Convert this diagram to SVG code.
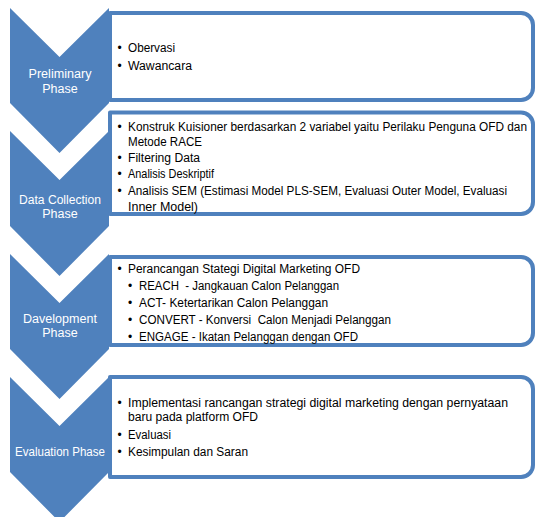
<svg xmlns="http://www.w3.org/2000/svg" width="537" height="517" viewBox="0 0 537 517">
  <style>
    .chev { fill: #4F81BD; }
    .box { fill: #FFFFFF; stroke: #4F81BD; stroke-width: 4; stroke-linejoin: round; }
    .lbl { font-family: "Liberation Sans", Arial, sans-serif; font-size: 12.5px; fill: #FFFFFF; text-anchor: middle; }
    .txt { font-family: "Liberation Sans", Arial, sans-serif; font-size: 12.3px; fill: #000000; }
    .bul { font-family: "Liberation Sans", Arial, sans-serif; font-size: 12px; fill: #000000; }
  </style>
  <rect x="0" y="0" width="537" height="517" fill="#FFFFFF"/>

  <!-- Phase 1 -->
  <g id="preliminary">
    <path class="chev" d="M10,8 L59.5,57 L109,8 L109,103 L59.5,153 L10,103 Z"/>
    <text class="lbl" x="60" y="78" textLength="63" lengthAdjust="spacingAndGlyphs">Preliminary</text>
    <text class="lbl" x="60" y="93">Phase</text>
    <path class="box" d="M110,13 H521 A12,12 0 0 1 533,25 V88 A12,12 0 0 1 521,100 H110 Z"/>
    <text class="bul" x="117.5" y="52">•</text>
    <text class="txt" x="128" y="52" textLength="47" lengthAdjust="spacingAndGlyphs">Obervasi</text>
    <text class="bul" x="117.5" y="70">•</text>
    <text class="txt" x="128" y="70" textLength="64" lengthAdjust="spacingAndGlyphs">Wawancara</text>
  </g>

  <!-- Phase 2 -->
  <g id="data-collection">
    <path class="chev" d="M10,131 L59.5,180 L109,131 L109,226 L59.5,276 L10,226 Z"/>
    <text class="lbl" x="60" y="204" textLength="82" lengthAdjust="spacingAndGlyphs">Data Collection</text>
    <text class="lbl" x="60" y="218">Phase</text>
    <path class="box" d="M110,112.5 H521 A12,12 0 0 1 533,124.5 V202 A12,12 0 0 1 521,214 H110 Z"/>
    <text class="bul" x="117.5" y="130.5">•</text>
    <text class="txt" x="128" y="130.5" textLength="399" lengthAdjust="spacingAndGlyphs">Konstruk Kuisioner berdasarkan 2 variabel yaitu Perilaku Penguna OFD dan</text>
    <text class="txt" x="128" y="146" textLength="74" lengthAdjust="spacingAndGlyphs">Metode RACE</text>
    <text class="bul" x="117.5" y="162">•</text>
    <text class="txt" x="128" y="162" textLength="72" lengthAdjust="spacingAndGlyphs">Filtering Data</text>
    <text class="bul" x="117.5" y="178">•</text>
    <text class="txt" x="128" y="178" textLength="86" lengthAdjust="spacingAndGlyphs">Analisis Deskriptif</text>
    <text class="bul" x="117.5" y="195">•</text>
    <text class="txt" x="128" y="195" textLength="379" lengthAdjust="spacingAndGlyphs">Analisis SEM (Estimasi Model PLS-SEM, Evaluasi Outer Model, Evaluasi</text>
    <text class="txt" x="128" y="211" textLength="70" lengthAdjust="spacingAndGlyphs">Inner Model)</text>
  </g>

  <!-- Phase 3 -->
  <g id="development">
    <path class="chev" d="M10,254 L59.5,303 L109,254 L109,349 L59.5,399 L10,349 Z"/>
    <text class="lbl" x="60" y="323" textLength="74" lengthAdjust="spacingAndGlyphs">Davelopment</text>
    <text class="lbl" x="60" y="337">Phase</text>
    <path class="box" d="M110,257 H521 A12,12 0 0 1 533,269 V333 A12,12 0 0 1 521,345 H110 Z"/>
    <text class="bul" x="117.5" y="273">•</text>
    <text class="txt" x="128" y="273" textLength="232" lengthAdjust="spacingAndGlyphs">Perancangan Stategi Digital Marketing OFD</text>
    <text class="bul" x="128" y="290">•</text>
    <text class="txt" x="139" y="290" textLength="200" lengthAdjust="spacingAndGlyphs" xml:space="preserve">REACH  - Jangkauan Calon Pelanggan</text>
    <text class="bul" x="128" y="307">•</text>
    <text class="txt" x="139" y="307" textLength="189" lengthAdjust="spacingAndGlyphs">ACT- Ketertarikan Calon Pelanggan</text>
    <text class="bul" x="128" y="324">•</text>
    <text class="txt" x="139" y="324" textLength="252" lengthAdjust="spacingAndGlyphs" xml:space="preserve">CONVERT - Konversi  Calon Menjadi Pelanggan</text>
    <text class="bul" x="128" y="341">•</text>
    <text class="txt" x="139" y="341" textLength="219" lengthAdjust="spacingAndGlyphs">ENGAGE - Ikatan Pelanggan dengan OFD</text>
  </g>

  <!-- Phase 4 -->
  <g id="evaluation">
    <path class="chev" d="M10,377 L59.5,426 L109,377 L109,472 L59.5,522 L10,472 Z"/>
    <text class="lbl" x="60" y="456" textLength="90" lengthAdjust="spacingAndGlyphs">Evaluation Phase</text>
    <path class="box" d="M110,377 H521 A12,12 0 0 1 533,389 V465 A12,12 0 0 1 521,477 H110 Z"/>
    <text class="bul" x="117.5" y="407">•</text>
    <text class="txt" x="128" y="407" textLength="380" lengthAdjust="spacingAndGlyphs">Implementasi rancangan strategi digital marketing dengan pernyataan</text>
    <text class="txt" x="128" y="421" textLength="130" lengthAdjust="spacingAndGlyphs">baru pada platform OFD</text>
    <text class="bul" x="117.5" y="439">•</text>
    <text class="txt" x="128" y="439" textLength="43" lengthAdjust="spacingAndGlyphs">Evaluasi</text>
    <text class="bul" x="117.5" y="456">•</text>
    <text class="txt" x="128" y="456" textLength="120" lengthAdjust="spacingAndGlyphs">Kesimpulan dan Saran</text>
  </g>

  <g id="connectors"/>
</svg>
